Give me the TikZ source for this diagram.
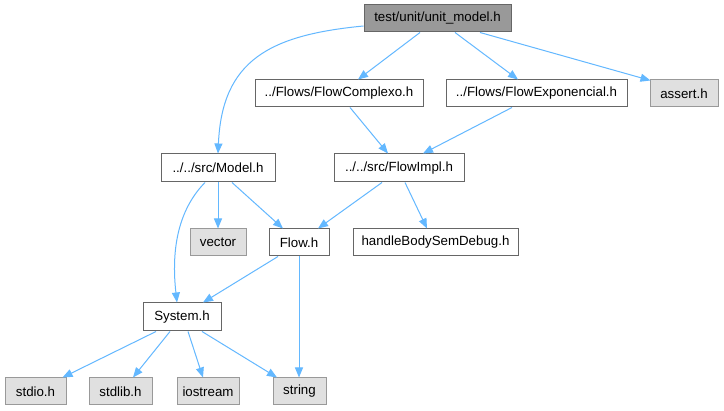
\documentclass[tikz,border=0pt]{standalone}
\usepackage{fontspec}
\setmainfont{Liberation Sans}
\usetikzlibrary{arrows.meta}
\definecolor{edgeblue}{HTML}{63B8FF}
\definecolor{darkborder}{HTML}{666666}
\definecolor{lightborder}{HTML}{999999}
\definecolor{extfill}{HTML}{E0E0E0}
\definecolor{topfill}{HTML}{999999}
\begin{document}
\begin{tikzpicture}[x=1pt,y=-1pt,
  box/.style={draw=darkborder, fill=white, line width=1pt, inner sep=0pt, minimum height=27pt,
    font=\fontsize{13.3}{16}\selectfont, text=black},
  topbox/.style={box, fill=topfill},
  extbox/.style={box, draw=lightborder, fill=extfill},
  dep/.style={draw=edgeblue, line width=1pt, -{Triangle[length=10pt,width=8pt]}}]
\useasboundingbox (0,0) rectangle (724,411);
\fill[white] (0,0) rectangle (724,411);
% nodes
\node[topbox, minimum width=147pt] (top) at (437.5,18.5) {test/unit/unit\_model.h};
\node[box, minimum width=168pt] (fc) at (339,93.5) {../Flows/FlowComplexo.h};
\node[box, minimum width=181pt] (fe) at (536.5,93.5) {../Flows/FlowExponencial.h};
\node[extbox, minimum width=68pt] (as) at (684,93.5) {assert.h};
\node[box, minimum width=114pt, minimum height=28pt] (model) at (218,168) {../../src/Model.h};
\node[box, minimum width=130pt, minimum height=28pt] (impl) at (399,168) {../../src/FlowImpl.h};
\node[extbox, minimum width=56pt] (vec) at (218,242.5) {vector};
\node[box, minimum width=60pt] (flow) at (299,242.5) {Flow.h};
\node[box, minimum width=165pt] (hb) at (435.5,242.5) {handleBodySemDebug.h};
\node[box, minimum width=78pt, minimum height=28pt] (sys) at (182,317) {System.h};
\node[extbox, minimum width=61pt] (stdio) at (35.5,391.5) {stdio.h};
\node[extbox, minimum width=63pt] (stdlib) at (120.5,391.5) {stdlib.h};
\node[extbox, minimum width=62pt] (ios) at (208,391.5) {iostream};
\node[extbox, minimum width=53pt] (str) at (299.5,391.5) {string};
% edges
\draw[dep] ([yshift=-7.5pt]top.west) .. controls (270,35) and (222,60) .. (model.north);
\draw[dep] ([xshift=-17.5pt]top.south) -- ([xshift=19pt]fc.north);
\draw[dep] ([xshift=17.5pt]top.south) -- ([xshift=-18.5pt]fe.north);
\draw[dep] ([xshift=42.5pt]top.south) -- ([xshift=1pt,yshift=-1pt]as.north west);
\draw[dep] ([xshift=11pt]fc.south) -- ([xshift=-11pt]impl.north);
\draw[dep] ([xshift=-24.5pt]fe.south) -- ([xshift=24pt]impl.north);
\draw[dep] (model.south) -- (vec.north);
\draw[dep] ([xshift=14pt]model.south) -- ([xshift=-16pt]flow.north);
\draw[dep] ([xshift=-13pt]model.south) .. controls (183,205) and (170,240) .. ([xshift=-5pt]sys.north);
\draw[dep] ([xshift=-17pt]impl.south) -- ([xshift=19pt]flow.north);
\draw[dep] ([xshift=6pt]impl.south) -- ([xshift=-8.5pt]hb.north);
\draw[dep] ([xshift=-21pt]flow.south) -- ([xshift=21pt]sys.north);
\draw[dep] (flow.south) -- (flow.south |- str.north);
\draw[dep] ([xshift=-26pt]sys.south) -- ([xshift=-4pt]stdio.north east);
\draw[dep] ([xshift=-12pt]sys.south) -- ([xshift=12.5pt]stdlib.north);
\draw[dep] ([xshift=6pt]sys.south) -- ([xshift=-5pt]ios.north);
\draw[dep] ([xshift=20pt]sys.south) -- ([xshift=-22.5pt]str.north);
\end{tikzpicture}
\end{document}
